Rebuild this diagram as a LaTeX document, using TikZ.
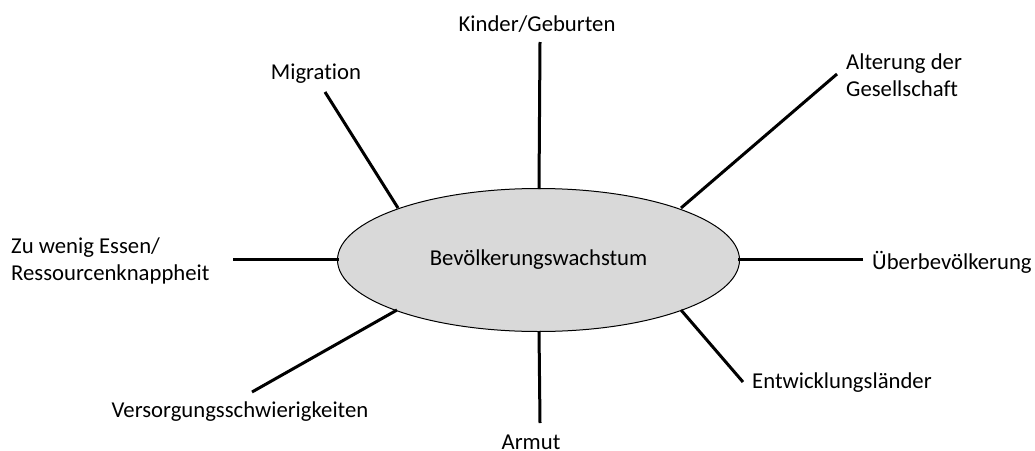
\documentclass[tikz,border=0pt]{standalone}
\usepackage{fontspec}
\setmainfont{Carlito}[Ligatures={NoCommon}]
\usetikzlibrary{shapes.geometric}
\begin{document}
\begin{tikzpicture}[x=1pt,y=-1pt,
  lbl/.style={inner sep=0pt,font=\fontsize{22.7}{27.5}\selectfont,align=left},
  spoke/.style={line width=3pt}]
\useasboundingbox (0,0) rectangle (1035,450);
\node[ellipse,draw=black,line width=1pt,fill={rgb,255:red,217;green,217;blue,217},
  minimum width=402pt,minimum height=143pt,inner sep=0pt,
  font=\fontsize{22.7}{27.5}\selectfont] (c) at (538.5,260) {Bevölkerungswachstum};
% labels
\node[lbl] (kin) at (537,24) {Kinder/Geburten};
\node[lbl] (mig) at (316,74) {Migration};
\node[lbl,anchor=west] (alt) at (846,75) {Alterung der\\Gesellschaft};
\node[lbl,anchor=west] (ess) at (11,261) {Zu wenig Essen/\\Ressourcenknappheit};
\node[lbl,anchor=west] (ueb) at (872,262) {Überbevölkerung};
\node[lbl,anchor=west] (ent) at (752,383) {Entwicklungsländer};
\node[lbl] (arm) at (531,442) {Armut};
\node[lbl] (ver) at (240,412) {Versorgungsschwierigkeiten};
% spoke ends
\coordinate (kinA) at (540,42);  \coordinate (kinB) at (539,189);
\coordinate (migA) at (325,92);  \coordinate (migB) at (398,208);
\coordinate (altA) at (837,74);  \coordinate (altB) at (681,208);
\coordinate (essA) at (233,259); \coordinate (essB) at (339,259);
\coordinate (uebA) at (863,259); \coordinate (uebB) at (738,259);
\coordinate (entA) at (743,382); \coordinate (entB) at (681,310);
\coordinate (armA) at (540,423); \coordinate (armB) at (539,331);
\coordinate (verA) at (252,392); \coordinate (verB) at (397,310);
\foreach \s in {kin,mig,alt,ess,ueb,ent,arm,ver}{
  \draw[spoke] (\s A) -- (\s B);
}
\end{tikzpicture}
\end{document}
